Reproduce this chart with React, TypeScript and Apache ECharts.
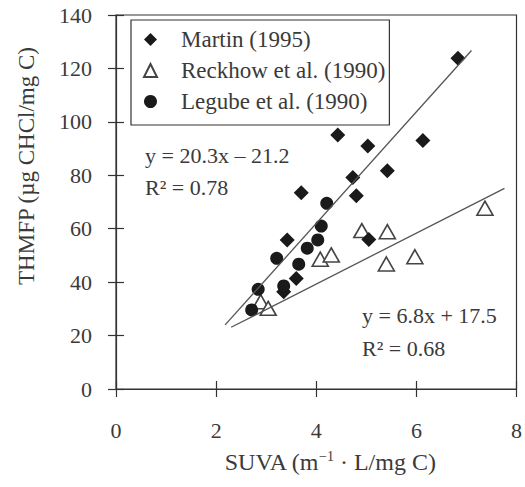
import React, { useEffect, useRef } from "react";
import * as echarts from "echarts";

// ---- data ----
const martinX = [3.35, 3.6, 3.42, 3.7, 4.43, 4.73, 4.8, 5.03, 5.05, 5.42, 6.13, 6.83];
const martinY = [36.4, 41.4, 55.8, 73.5, 95.1, 79.2, 72.3, 91.0, 56.0, 81.7, 93.0, 123.8];

const reckhowX = [2.89, 3.04, 4.08, 4.3, 4.91, 5.42, 5.4, 5.97, 7.37];
const reckhowY = [32.7, 30.2, 48.6, 50.2, 59.3, 58.9, 46.8, 49.5, 67.7];

const legubeX = [2.71, 2.84, 3.21, 3.35, 3.65, 3.82, 4.03, 4.1, 4.21];
const legubeY = [29.6, 37.3, 48.9, 38.6, 46.7, 52.7, 55.8, 61.0, 69.5];

// fitted lines as drawn (end points)
const fit1X = [2.18, 7.1];
const fit1Y = [24.0, 126.7];
const fit2X = [2.3, 7.76];
const fit2Y = [23.1, 75.1];

const seriesNames = ["Martin (1995)", "Reckhow et al. (1990)", "Legube et al. (1990)"];
const eq1 = ["y = 20.3x – 21.2", "R² = 0.78"];
const eq2 = ["y = 6.8x + 17.5", "R² = 0.68"];
const xTitle = ["SUVA (m", "−1", " · L/mg C)"];
const yTitle = "THMFP (µg CHCl/mg C)";

const FONT = "'Liberation Serif', 'Times New Roman', serif";
const INK = "#333";
const TXT = "#3a3a3a";

const zip = (xs: number[], ys: number[]) => xs.map((x, i) => [x, ys[i]]);

export default function App() {
  const ref = useRef<HTMLDivElement>(null);
  useEffect(() => {
    if (!ref.current) return;
    const chart = echarts.init(ref.current, undefined, { renderer: "svg" });
    const axisCommon = {
      type: "value" as const,
      splitLine: { show: false },
      axisLine: { show: true, lineStyle: { color: INK, width: 1.2 } },
      axisTick: { show: true, length: 8, lineStyle: { color: INK, width: 1.2 } },
    };
    chart.setOption({
      animation: false,
      backgroundColor: "#fff",
      grid: {
        left: 116,
        right: 6,
        top: 15,
        bottom: 98,
        show: true,
        borderColor: INK,
        borderWidth: 1.2,
        backgroundColor: "transparent",
      },
      xAxis: [
        {
          ...axisCommon,
          min: 0,
          max: 8,
          interval: 2,
          position: "bottom",
          axisLabel: { margin: 30, fontSize: 22, fontFamily: FONT, color: TXT },
        },
        {
          ...axisCommon,
          min: 0,
          max: 8,
          interval: 2,
          position: "bottom",
          axisLine: { show: false },
          axisTick: { show: true, inside: true, length: 8, lineStyle: { color: INK, width: 1.2 } },
          axisLabel: { show: false },
        },
      ],
      yAxis: [
        {
          ...axisCommon,
          min: 0,
          max: 140,
          interval: 20,
          position: "left",
          axisLabel: { margin: 24, fontSize: 22, fontFamily: FONT, color: TXT },
        },
        {
          ...axisCommon,
          min: 0,
          max: 140,
          interval: 20,
          position: "left",
          axisLine: { show: false },
          axisTick: { show: true, inside: true, length: 8, lineStyle: { color: INK, width: 1.2 } },
          axisLabel: { show: false },
        },
      ],
      legend: {
        orient: "vertical",
        left: 131,
        top: 20,
        padding: [8, 4, 12, 12],
        itemWidth: 13,
        itemHeight: 13,
        itemGap: 8,
        borderColor: INK,
        borderWidth: 1.2,
        backgroundColor: "#fff",
        selectedMode: false,
        textStyle: { fontFamily: FONT, fontSize: 23, color: TXT, lineHeight: 22, padding: [0, 0, 0, 19] },
        data: [
          { name: seriesNames[0], icon: "diamond" },
          { name: seriesNames[1], icon: "triangle" },
          { name: seriesNames[2], icon: "circle" },
        ],
      },
      series: [
        {
          type: "line",
          data: zip(fit1X, fit1Y),
          showSymbol: false,
          symbol: "none",
          lineStyle: { color: "#555", width: 1.3 },
          silent: true,
        },
        {
          type: "line",
          data: zip(fit2X, fit2Y),
          showSymbol: false,
          symbol: "none",
          lineStyle: { color: "#555", width: 1.3 },
          silent: true,
        },
        {
          name: seriesNames[1],
          type: "scatter",
          symbol: "triangle",
          symbolSize: [16, 14],
          itemStyle: { color: "#fff", borderColor: "#444", borderWidth: 1.6, opacity: 1 },
          data: zip(reckhowX, reckhowY),
        },
        {
          name: seriesNames[0],
          type: "scatter",
          symbol: "diamond",
          symbolSize: 15,
          itemStyle: { color: "#1a1a1a", opacity: 1 },
          data: zip(martinX, martinY),
        },
        {
          name: seriesNames[2],
          type: "scatter",
          symbol: "circle",
          symbolSize: 13,
          itemStyle: { color: "#1a1a1a", opacity: 1 },
          data: zip(legubeX, legubeY),
        },
      ],
      graphic: [
        {
          type: "text",
          x: 145,
          y: 155,
          style: { text: eq1[0], fontFamily: FONT, fontSize: 22, fill: TXT, verticalAlign: "middle", align: "left" },
        },
        {
          type: "text",
          x: 145,
          y: 187,
          style: { text: eq1[1], fontFamily: FONT, fontSize: 22, fill: TXT, verticalAlign: "middle", align: "left" },
        },
        {
          type: "text",
          x: 362,
          y: 315,
          style: { text: eq2[0], fontFamily: FONT, fontSize: 22, fill: TXT, verticalAlign: "middle", align: "left" },
        },
        {
          type: "text",
          x: 362,
          y: 348,
          style: { text: eq2[1], fontFamily: FONT, fontSize: 22, fill: TXT, verticalAlign: "middle", align: "left" },
        },
        {
          type: "text",
          x: 330,
          y: 462,
          style: {
            text: `{n|${xTitle[0]}}{s|${xTitle[1]}}{n|${xTitle[2]}}`,
            align: "center",
            verticalAlign: "middle",
            rich: {
              n: { fontFamily: FONT, fontSize: 24, fill: TXT, lineHeight: 26 },
              s: { fontFamily: FONT, fontSize: 14, fill: TXT, verticalAlign: "top", lineHeight: 26 },
            },
          },
        },
        {
          type: "text",
          x: 26,
          y: 166,
          rotation: Math.PI / 2,
          style: { text: yTitle, fontFamily: FONT, fontSize: 23, fill: TXT, align: "center", verticalAlign: "middle" },
        },
      ],
    });
    return () => chart.dispose();
  }, []);
  return <div ref={ref} style={{ position: "absolute", left: 0, top: 0, width: 525, height: 487 }} />;
}
